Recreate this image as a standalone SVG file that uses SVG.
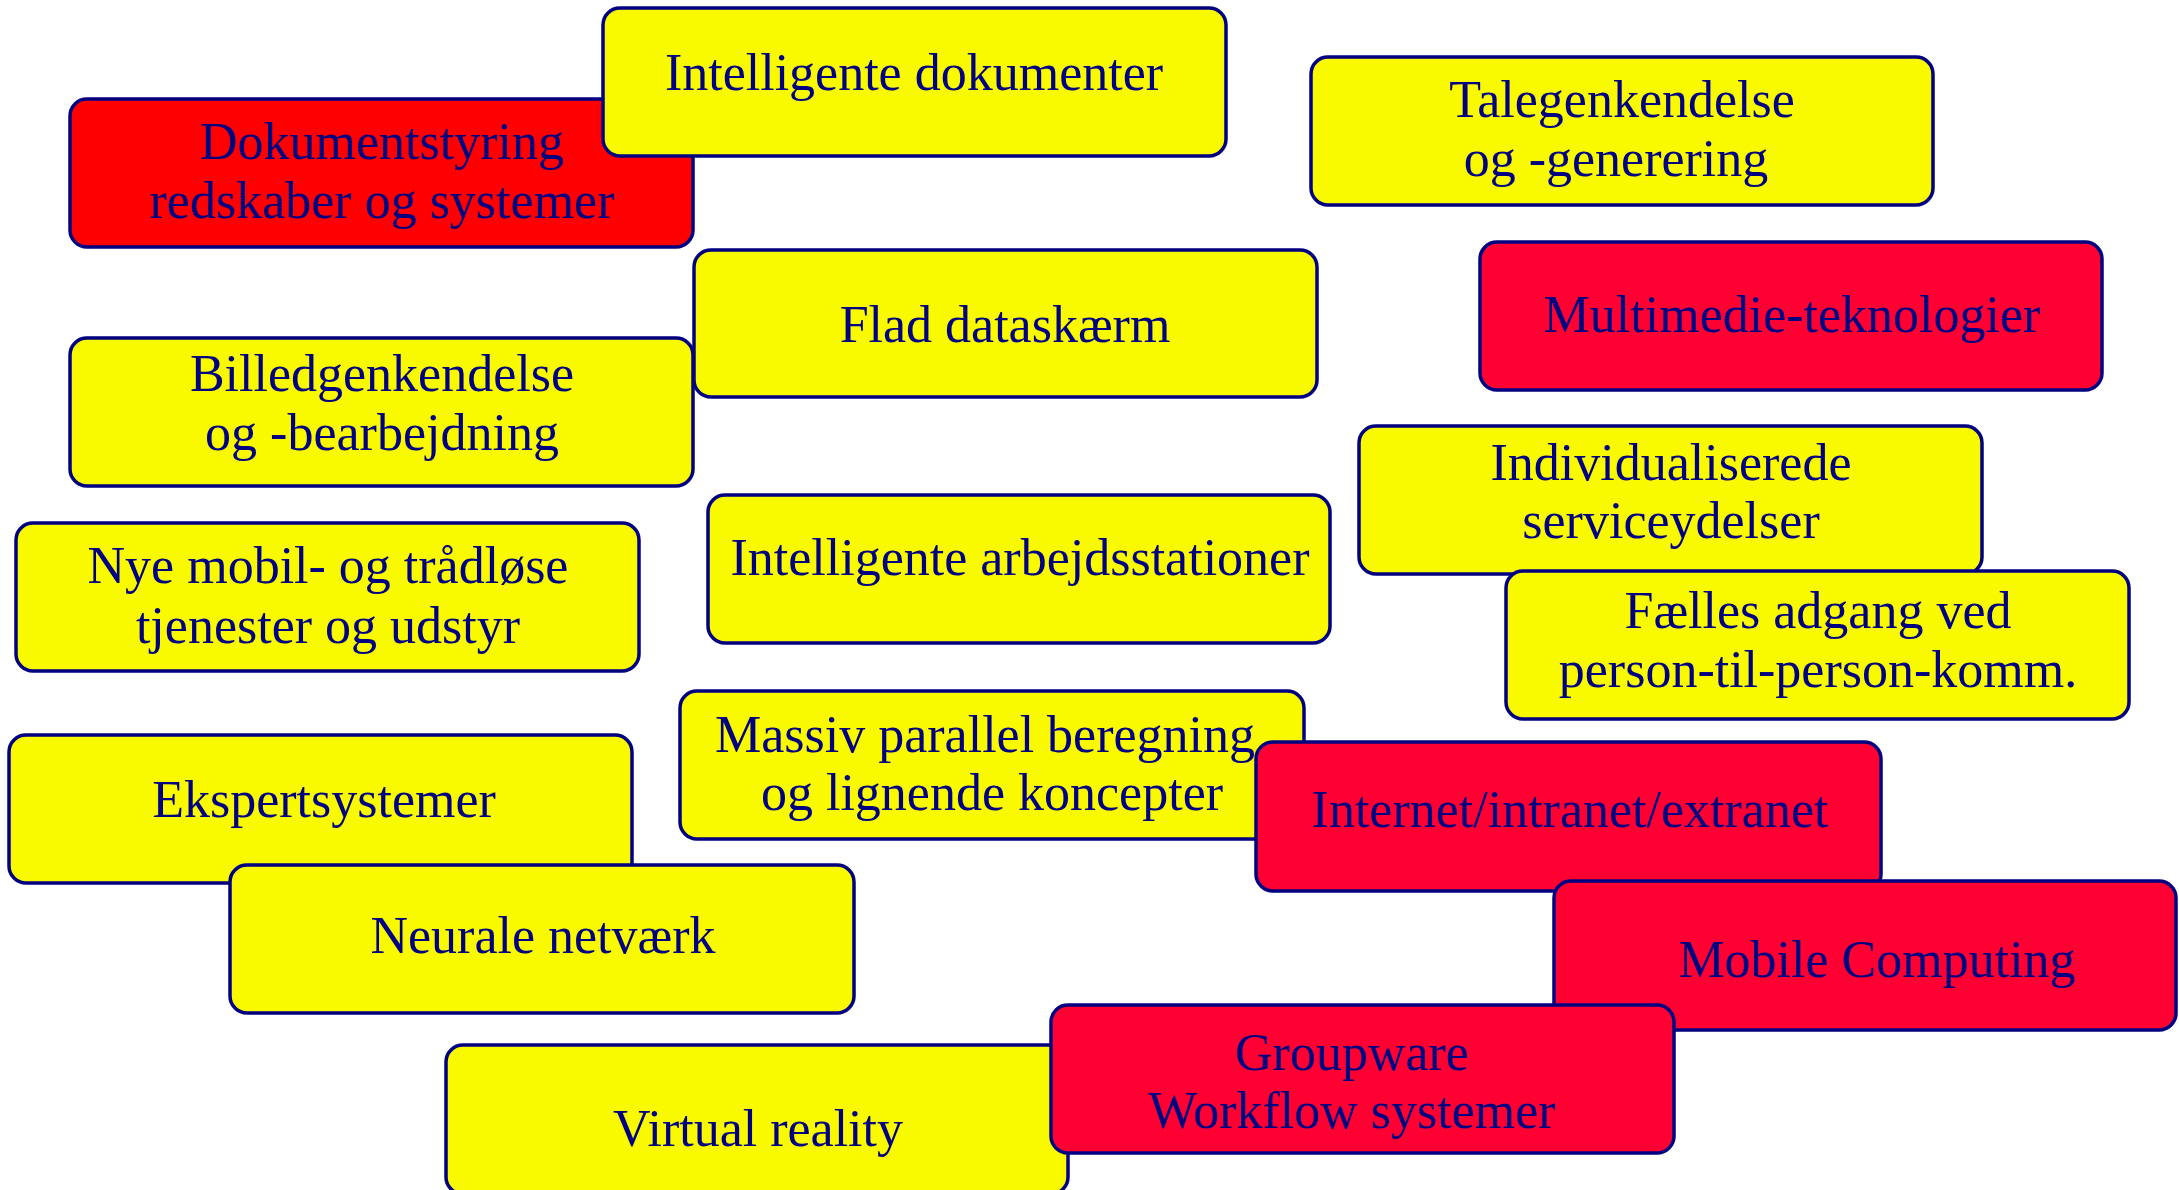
<svg xmlns="http://www.w3.org/2000/svg" width="2179" height="1190" viewBox="0 0 2179 1190">
<style>
.b{stroke:#000080;stroke-width:3.5}
.y{fill:#F9F900}
.r{fill:#FF0033}
.rr{fill:#FF0000}
text{font-family:"Liberation Serif","Times New Roman",serif;font-size:52px;fill:#000080;text-anchor:middle}
</style>
<rect width="2179" height="1190" fill="#FFFFFF"/>
<g id="connectors"/>
<g id="n-dokumentstyring"><rect class="b rr" x="70" y="99" width="623" height="148" rx="17"/><text x="382" y="159">Dokumentstyring</text><text x="382" y="218">redskaber og systemer</text></g>
<g id="n-intelligente-dokumenter"><rect class="b y" x="603" y="8" width="623" height="148" rx="17"/><text x="914" y="90">Intelligente dokumenter</text></g>
<g id="n-talegenkendelse"><rect class="b y" x="1311" y="57" width="622" height="148" rx="17"/><text x="1622" y="117">Talegenkendelse</text><text x="1616" y="176">og -generering</text></g>
<g id="n-flad"><rect class="b y" x="694" y="250" width="623" height="147" rx="17"/><text x="1005" y="342">Flad dataskærm</text></g>
<g id="n-billed"><rect class="b y" x="70" y="338" width="623" height="148" rx="17"/><text x="382" y="391">Billedgenkendelse</text><text x="382" y="450">og -bearbejdning</text></g>
<g id="n-multimedie"><rect class="b r" x="1480" y="242" width="622" height="148" rx="17"/><text x="1792" y="332">Multimedie-teknologier</text></g>
<g id="n-arbejdsstationer"><rect class="b y" x="708" y="495" width="622" height="148" rx="17"/><text x="1020" y="575">Intelligente arbejdsstationer</text></g>
<g id="n-nye-mobil"><rect class="b y" x="16" y="523" width="623" height="148" rx="17"/><text x="328" y="583">Nye mobil- og trådløse</text><text x="328" y="643">tjenester og udstyr</text></g>
<g id="n-individualiserede"><rect class="b y" x="1359" y="426" width="623" height="148" rx="17"/><text x="1671" y="480">Individualiserede</text><text x="1671" y="538">serviceydelser</text></g>
<g id="n-faelles"><rect class="b y" x="1506" y="571" width="623" height="148" rx="17"/><text x="1818" y="628">Fælles adgang ved</text><text x="1818" y="687">person-til-person-komm.</text></g>
<g id="n-massiv"><rect class="b y" x="680" y="691" width="624" height="148" rx="17"/><text x="985" y="752">Massiv parallel beregning</text><text x="992" y="810">og lignende koncepter</text></g>
<g id="n-internet"><rect class="b r" x="1256" y="742" width="625" height="149" rx="17"/><text x="1570" y="827">Internet/intranet/extranet</text></g>
<g id="n-ekspert"><rect class="b y" x="9" y="735" width="623" height="148" rx="17"/><text x="324" y="817">Ekspertsystemer</text></g>
<g id="n-neurale"><rect class="b y" x="230" y="865" width="624" height="148" rx="17"/><text x="543" y="953">Neurale netværk</text></g>
<g id="n-mobile"><rect class="b r" x="1554" y="881" width="622" height="149" rx="17"/><text x="1877" y="977">Mobile Computing</text></g>
<g id="n-virtual"><rect class="b y" x="446" y="1045" width="622" height="149" rx="17"/><text x="758" y="1146">Virtual reality</text></g>
<g id="n-groupware"><rect class="b r" x="1051" y="1005" width="623" height="148" rx="17"/><text x="1352" y="1070">Groupware</text><text x="1352" y="1128">Workflow systemer</text></g>
</svg>
